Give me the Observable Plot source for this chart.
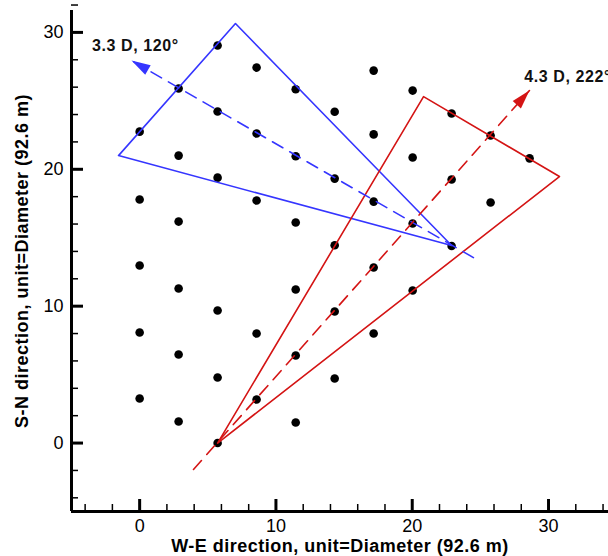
<!DOCTYPE html>
<html>
<head>
<meta charset="utf-8">
<script src="https://cdn.jsdelivr.net/npm/d3@7"></script>
<script src="https://cdn.jsdelivr.net/npm/@observablehq/plot@0.6"></script>
<style>
  html, body { margin: 0; padding: 0; background: #fff; }
  #chart svg { display: block; }
</style>
</head>
<body>
<div id="chart"></div>
<script>
// Turbine positions (unit = rotor diameter)
const turbineX = [
  5.72, 17.17, 8.58, 2.86, 11.45, 20.03, 0.00, 5.72, 14.31, 22.89,
  8.58, 17.17, 25.75, 2.86, 11.45, 20.03, 28.61, 5.72, 14.31, 22.89,
  0.00, 8.58, 17.17, 25.75, 2.86, 11.45, 20.03, 14.31, 22.89, 0.00,
  17.17, 2.86, 11.45, 20.03, 5.72, 14.31, 0.00, 8.58, 17.17, 2.86,
  11.45, 5.72, 14.31, 0.00, 8.58, 2.86, 11.45, 5.72
];
const turbineY = [
  29.04, 27.21, 27.43, 25.90, 25.85, 25.75, 22.75, 24.22, 24.20, 24.07,
  22.61, 22.55, 22.47, 21.00, 20.95, 20.86, 20.80, 19.39, 19.32, 19.25,
  17.79, 17.72, 17.64, 17.57, 16.18, 16.11, 16.04, 14.45, 14.40, 12.97,
  12.82, 11.29, 11.22, 11.14, 9.68, 9.61, 8.08, 8.00, 8.00, 6.47,
  6.40, 4.79, 4.72, 3.25, 3.18, 1.57, 1.50, 0.00
];

// Wake sectors (closed polygons)
const blueSectorX = [22.89, 7.03, -1.55, 22.89];
const blueSectorY = [14.43, 30.65, 21.00, 14.43];
const redSectorX = [5.72, 20.83, 30.80, 5.72];
const redSectorY = [0.00, 25.31, 19.47, 0.00];

// Direction arrows (start -> tip)
const blueArrowX = [24.49, -0.60];
const blueArrowY = [13.55, 27.94];
const redArrowX = [3.95, 28.60];
const redArrowY = [-1.93, 25.75];

// Annotations
const annotationText = ["3.3 D, 120°", "4.3 D, 222°"];
const annotationX = [-3.50, 28.22];
const annotationY = [29.00, 26.78];

// Axis ticks
const majorTicks = [0, 10, 20, 30];
const minorTicks = [-4, -2, 2, 4, 6, 8, 12, 14, 16, 18, 22, 24, 26, 28, 32, 34];
const xTitle = "W-E direction, unit=Diameter (92.6 m)";
const yTitle = "S-N direction, unit=Diameter (92.6 m)";

const BLUE = "#3535ff";
const RED = "#d41414";

// arrowhead symbol: tip at origin, pointing up
const arrowHead = {
  draw(context) {
    context.moveTo(0, 0);
    context.lineTo(5.5, 19);
    context.lineTo(-5.5, 19);
    context.closePath();
  }
};

const idx = n => d3.range(n);
const heading = (xs, ys) => Math.atan2(xs[1] - xs[0], ys[1] - ys[0]) * 180 / Math.PI;

const heads = [
  {x: blueArrowX[1], y: blueArrowY[1], rot: heading(blueArrowX, blueArrowY), c: BLUE},
  {x: redArrowX[1], y: redArrowY[1], rot: heading(redArrowX, redArrowY), c: RED}
];

const chart = Plot.plot({
  width: 608,
  height: 556,
  marginLeft: 71,
  marginRight: 0,
  marginTop: 10,
  marginBottom: 45,
  x: {domain: [-5, 34.4]},
  y: {domain: [-5, 31.6]},
  style: {fontFamily: "'Liberation Sans', Arial, sans-serif", background: "#fff", color: "#000"},
  marks: [
    // turbines
    Plot.dot(idx(turbineX.length), {x: i => turbineX[i], y: i => turbineY[i], r: 4.3, fill: "#000", stroke: "none"}),
    // sectors
    Plot.line(idx(blueSectorX.length), {x: i => blueSectorX[i], y: i => blueSectorY[i], stroke: BLUE, strokeWidth: 1.6}),
    Plot.line(idx(redSectorX.length), {x: i => redSectorX[i], y: i => redSectorY[i], stroke: RED, strokeWidth: 1.6}),
    // dashed direction lines
    Plot.line(idx(2), {x: i => blueArrowX[i], y: i => blueArrowY[i], stroke: BLUE, strokeWidth: 1.6, strokeDasharray: "12,8"}),
    Plot.line(idx(2), {x: i => redArrowX[i], y: i => redArrowY[i], stroke: RED, strokeWidth: 1.6, strokeDasharray: "12,8"}),
    // arrowheads
    Plot.dot(heads, {x: "x", y: "y", rotate: "rot", fill: "c", stroke: "none", symbol: arrowHead, r: 5}),
    // annotations
    Plot.text(idx(annotationText.length), {
      x: i => annotationX[i], y: i => annotationY[i], text: i => annotationText[i],
      fill: "#111", textAnchor: "start", lineAnchor: "middle", fontWeight: "bold", fontSize: 16
    }),
    // axis lines
    Plot.ruleX([-5], {strokeWidth: 3, stroke: "#000"}),
    Plot.ruleY([-5], {strokeWidth: 3, stroke: "#000"}),
    // inward ticks
    Plot.axisX(majorTicks, {tickSize: -12, strokeWidth: 3, tickFormat: () => "", label: null}),
    Plot.axisX(minorTicks, {tickSize: -7, strokeWidth: 1.5, tickFormat: () => "", label: null}),
    Plot.axisY(majorTicks, {tickSize: -12, strokeWidth: 3, tickFormat: () => "", label: null}),
    Plot.axisY(minorTicks, {tickSize: -7, strokeWidth: 1.5, tickFormat: () => "", label: null}),
    // tick labels
    Plot.axisX(majorTicks, {tickSize: 0, tickPadding: 8, fontSize: 18, label: null}),
    Plot.axisY(majorTicks, {tickSize: 0, tickPadding: 8, fontSize: 18, label: null}),
    // axis titles
    Plot.text([xTitle], {frameAnchor: "bottom", dy: 35, textAnchor: "middle", lineAnchor: "middle", fontWeight: "bold", fontSize: 18, fill: "#000"}),
    Plot.text([yTitle], {frameAnchor: "left", dx: -49, rotate: -90, textAnchor: "middle", lineAnchor: "middle", fontWeight: "bold", fontSize: 18, fill: "#000"})
  ]
});

// slightly wider lettering to match the reference font
d3.select(chart).selectAll("text").each(function() {
  const t = this.textContent;
  if (t === xTitle || t === yTitle) this.setAttribute("letter-spacing", "0.5");
  if (annotationText.includes(t)) this.setAttribute("letter-spacing", "0.6");
});

document.getElementById("chart").appendChild(chart);
</script>
</body>
</html>
